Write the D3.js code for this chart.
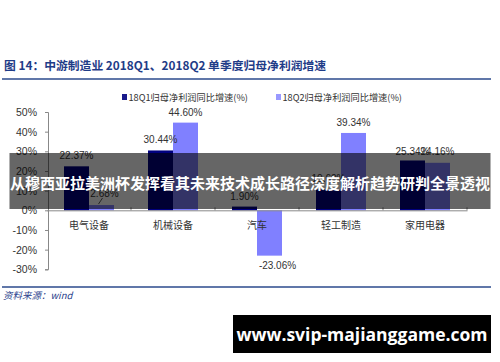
<!DOCTYPE html>
<html><head><meta charset="utf-8">
<script src="https://cdn.jsdelivr.net/npm/d3@7"></script>
<style>body{margin:0;background:#fff}svg{display:block}</style>
</head><body>
<script>
const categories = ["电气设备","机械设备","汽车","轻工制造","家用电器"];
const seriesNames = ["18Q1归母净利润同比增速(%)","18Q2归母净利润同比增速(%)"];
const q1Values = [22.37, 30.44, 1.90, 10.6, 25.34];
const q2Values = [2.68, 44.60, -23.06, 39.34, 24.16];
const yTicks = [-30,-20,-10,0,10,20,30,40,50];
const titleText = "图 14：中游制造业 2018Q1、2018Q2 单季度归母净利润增速";
const sourceText = "资料来源：wind";
const bannerText = "从穆西亚拉美洲杯发挥看其未来技术成长路径深度解析趋势研判全景透视";
const urlText = "www.svip-majianggame.com";
const colors = ["#000080","#8080ff"];

const W=500,H=362;
const svg=d3.select("body").append("svg").attr("width",W).attr("height",H);
const cjk='"Noto Sans CJK SC","Liberation Sans",sans-serif';
const sans='"Liberation Sans",Arial,sans-serif';

// title
svg.append("text").attr("x",4).attr("y",70).text(titleText)
  .attr("font-family",cjk).attr("font-weight","bold").attr("font-size",11.8).attr("fill","#1f3c88");
svg.append("line").attr("x1",2).attr("x2",491).attr("y1",79).attr("y2",79)
  .attr("stroke","#2b4a8c").attr("stroke-width",1.5);

// scales
const x0=d3.scaleBand().domain(categories).range([47,467]).paddingInner(0).paddingOuter(0);
const groupW=50;
const x1=d3.scaleBand().domain([0,1]).range([0,groupW]);
const y=d3.scaleLinear().domain([-30,50]).range([269.3,112]);

// y axis
const yAxis=d3.axisLeft(y).tickValues(yTicks).tickFormat(d=>d+"%").tickSize(3).tickPadding(8);
const gy=svg.append("g").attr("transform","translate(48,0)").call(yAxis);
gy.select(".domain").attr("stroke","#888");
gy.selectAll(".tick line").attr("stroke","#888");
gy.selectAll(".tick text").attr("font-family",sans).attr("font-size",10.5).attr("fill","#333");

// bars
const data=categories.map((c,i)=>({c,vals:[q1Values[i],q2Values[i]]}));
const g=svg.append("g");
data.forEach(d=>{
  const cx=x0(d.c)+x0.bandwidth()/2;
  d.vals.forEach((v,k)=>{
    const bx=cx-groupW/2+x1(k);
    g.append("rect").attr("x",bx).attr("width",x1.bandwidth())
      .attr("y",Math.min(y(v),y(0))).attr("height",Math.abs(y(v)-y(0)))
      .attr("fill",colors[k]);
  });
});

// x axis (zero line)
const xAxis=d3.axisBottom(x0).tickSize(0).tickPadding(0).tickFormat(()=>"");
const gx=svg.append("g").attr("transform",`translate(0,${y(0)})`).call(xAxis);
gx.select(".domain").attr("stroke","#888");
x0.domain().forEach((c,i)=>{
  if(i>0) svg.append("line").attr("x1",x0(c)).attr("x2",x0(c)).attr("y1",y(0)-3).attr("y2",y(0)).attr("stroke","#888");
});
svg.append("line").attr("x1",x0.range()[1]).attr("x2",x0.range()[1]).attr("y1",y(0)-3).attr("y2",y(0)).attr("stroke","#888");
categories.forEach(c=>{
  svg.append("text").attr("x",x0(c)+x0.bandwidth()/2).attr("y",229).attr("text-anchor","middle")
    .attr("font-family",cjk).attr("font-size",10).attr("fill","#333").text(c);
});

// value labels
data.forEach((d,i)=>{
  const cx=x0(d.c)+x0.bandwidth()/2;
  d.vals.forEach((v,k)=>{
    const bcx=cx-groupW/2+x1(k)+x1.bandwidth()/2;
    let tx=bcx, ty;
    if(v>=0) ty=y(v)-7; else ty=y(v)+13;
    if(i===0&&k===1){ tx=bcx+3;
      svg.append("line").attr("x1",bcx+1).attr("y1",y(v)-7).attr("x2",bcx-3).attr("y2",y(v)-1).attr("stroke","#333").attr("stroke-width",0.8);
      ty=y(v)-8.5;
    }
    if(v<0) tx=bcx+8;
    if(i===4) ty=y(d.vals[0])-5;
    svg.append("text").attr("x",tx).attr("y",ty).attr("text-anchor","middle")
      .attr("font-family",sans).attr("font-size",10).attr("fill","#333").text(v.toFixed(2)+"%");
  });
});

// legend
const lx=[122,276];
seriesNames.forEach((s,k)=>{
  svg.append("rect").attr("x",lx[k]).attr("y",94).attr("width",5).attr("height",6).attr("fill",k?"#9999ff":"#1a1a8c");
  svg.append("text").attr("x",lx[k]+6.5).attr("y",101).attr("font-family",cjk).attr("font-size",9.2).attr("fill","#333").text(s);
});

// source
svg.append("line").attr("x1",2).attr("x2",491).attr("y1",287).attr("y2",287).attr("stroke","#2b4a8c").attr("stroke-width",1.5);
svg.append("text").attr("x",3).attr("y",299).attr("font-family",cjk).attr("font-style","italic").attr("font-size",9.5).attr("fill","#2b3f8c").text(sourceText);

// banner overlay
svg.append("rect").attr("x",9.5).attr("y",153).attr("width",481).attr("height",56).attr("fill","rgba(0,0,0,0.6)");
svg.append("text").attr("x",250).attr("y",188.5).attr("text-anchor","middle").attr("font-family",cjk)
  .attr("font-weight","bold").attr("font-size",15).attr("fill","#fff").text(bannerText);

// url box
svg.append("rect").attr("x",233).attr("y",315).attr("width",258).attr("height",38).attr("fill","#000");
svg.append("text").attr("x",362).attr("y",340.5).attr("text-anchor","middle").attr("font-family",'"Open Sans",sans-serif')
  .attr("font-weight","bold").attr("font-size",17.5).attr("fill","#fff").text(urlText);
</script>
</body></html>
